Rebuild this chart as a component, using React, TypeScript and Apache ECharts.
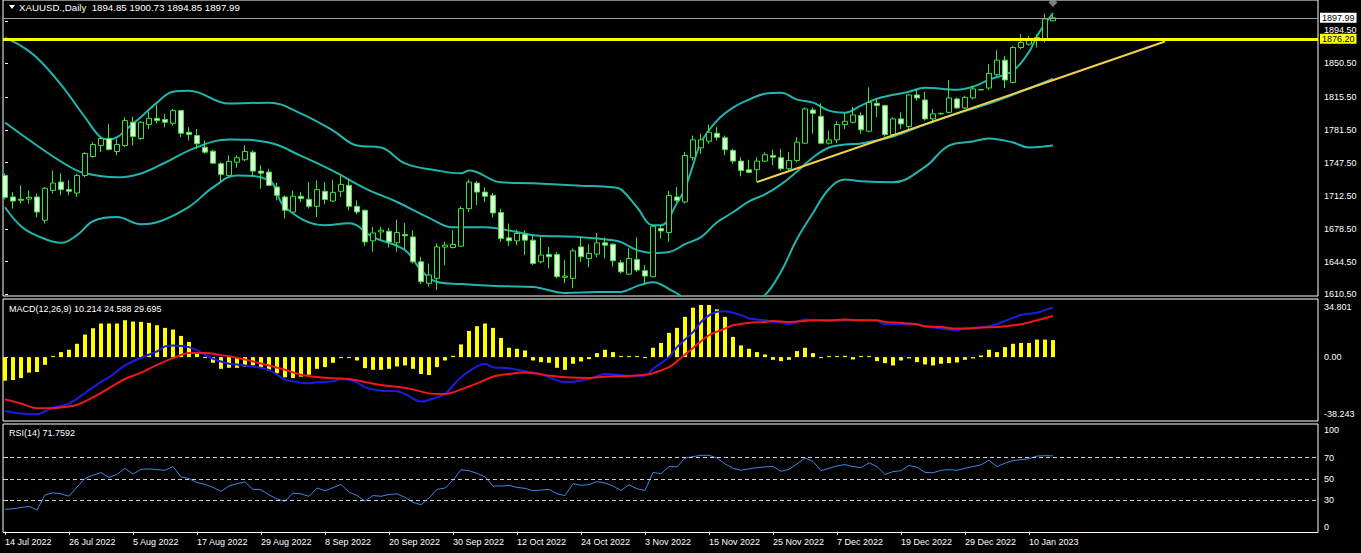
import React, { useEffect, useRef } from 'react';
import * as echarts from 'echarts';

const FONT = '"Liberation Sans", Arial, sans-serif';

const symbolName = 'XAUUSD.,Daily';
const headerOHLC = ['1894.85', '1900.73', '1894.85', '1897.99'];
const macdTitle = 'MACD(12,26,9) 10.214 24.588 29.695';
const rsiTitle = 'RSI(14) 71.7592';

const dateTicks = [
  '14 Jul 2022', '26 Jul 2022', '5 Aug 2022', '17 Aug 2022', '29 Aug 2022', '8 Sep 2022',
  '20 Sep 2022', '30 Sep 2022', '12 Oct 2022', '24 Oct 2022', '3 Nov 2022', '15 Nov 2022',
  '25 Nov 2022', '7 Dec 2022', '19 Dec 2022', '29 Dec 2022', '10 Jan 2023',
];
const barsPerTick = 8;

const openP = [
  1734.1, 1711.7, 1709.3, 1709.5, 1711.7, 1687.5, 1718.6, 1727.2, 1719.6, 1715.8,
  1734.1, 1753.8, 1765.2, 1772.5, 1759.0, 1765.2, 1789.4, 1772.5, 1787.0, 1793.5,
  1792.2, 1788.3, 1801.5, 1779.0, 1775.6, 1763.5, 1759.3, 1746.3, 1734.1, 1747.9,
  1750.4, 1758.3, 1738.6, 1737.6, 1722.0, 1711.7, 1696.1, 1712.4, 1709.3, 1702.0,
  1717.6, 1707.5, 1717.6, 1723.8, 1702.0, 1697.9, 1666.1, 1675.4, 1676.1, 1664.0,
  1672.7, 1670.2, 1644.3, 1621.9, 1627.1, 1659.6, 1659.2, 1660.6, 1699.6, 1726.2,
  1716.8, 1713.4, 1695.5, 1669.2, 1666.1, 1673.0, 1666.8, 1644.3, 1652.0, 1652.0,
  1628.1, 1627.1, 1659.8, 1647.8, 1652.3, 1664.0, 1662.6, 1643.3, 1631.5, 1646.8,
  1635.0, 1628.8, 1678.9, 1674.8, 1711.7, 1706.5, 1752.5, 1762.8, 1769.7, 1778.0,
  1773.2, 1760.1, 1749.0, 1740.0, 1740.0, 1749.0, 1754.9, 1752.5, 1741.1, 1749.7,
  1767.6, 1802.2, 1795.6, 1767.6, 1771.1, 1787.0, 1789.4, 1796.3, 1780.1, 1809.1,
  1806.7, 1776.6, 1792.9, 1784.9, 1817.8, 1812.6, 1792.9, 1798.1, 1799.7, 1813.6,
  1804.3, 1814.7, 1823.5, 1825.0, 1838.8, 1854.0, 1830.8, 1867.1, 1870.6, 1877.5,
  1875.8, 1894.85,
];
const highP = [
  1736.2, 1716.8, 1723.8, 1718.6, 1715.2, 1722.0, 1739.3, 1736.5, 1729.0, 1735.9,
  1758.3, 1768.7, 1773.8, 1787.7, 1772.2, 1794.6, 1795.3, 1790.4, 1800.5, 1807.7,
  1798.1, 1803.3, 1802.2, 1784.2, 1782.5, 1770.4, 1760.8, 1747.9, 1754.9, 1754.9,
  1765.2, 1760.1, 1744.5, 1741.1, 1726.2, 1713.4, 1718.6, 1716.8, 1727.2, 1729.0,
  1727.2, 1729.7, 1734.1, 1730.7, 1708.2, 1698.6, 1680.6, 1680.6, 1679.5, 1688.2,
  1684.7, 1677.2, 1649.5, 1642.6, 1663.4, 1665.0, 1677.2, 1702.0, 1729.7, 1728.2,
  1722.0, 1715.8, 1699.6, 1684.1, 1677.9, 1677.2, 1672.0, 1670.2, 1659.8, 1654.7,
  1646.1, 1658.2, 1670.2, 1662.6, 1674.3, 1669.6, 1663.4, 1646.1, 1658.2, 1669.6,
  1640.9, 1682.3, 1682.3, 1717.9, 1722.0, 1758.3, 1775.6, 1777.4, 1787.0, 1784.2,
  1775.6, 1761.8, 1753.1, 1750.4, 1753.1, 1758.3, 1760.8, 1761.8, 1758.3, 1773.8,
  1804.9, 1804.9, 1809.1, 1780.8, 1790.4, 1799.7, 1805.6, 1799.7, 1825.7, 1814.7,
  1807.7, 1794.6, 1799.7, 1818.8, 1824.0, 1821.2, 1803.3, 1799.5, 1833.3, 1815.3,
  1817.1, 1827.4, 1824.0, 1849.9, 1864.4, 1858.5, 1868.9, 1881.0, 1879.2, 1881.0,
  1902.3, 1900.73,
];
const lowP = [
  1709.3, 1699.6, 1705.1, 1704.8, 1690.9, 1684.1, 1715.2, 1713.4, 1713.4, 1711.7,
  1732.0, 1752.5, 1758.3, 1760.1, 1754.9, 1763.5, 1765.2, 1771.1, 1782.5, 1788.3,
  1784.2, 1786.0, 1773.8, 1770.4, 1761.8, 1756.6, 1746.3, 1727.2, 1732.4, 1742.1,
  1749.0, 1732.4, 1720.4, 1722.8, 1708.2, 1689.3, 1694.5, 1706.5, 1699.6, 1690.9,
  1704.1, 1706.5, 1711.7, 1697.9, 1693.7, 1660.6, 1654.7, 1666.8, 1659.2, 1654.7,
  1656.4, 1642.6, 1621.2, 1618.4, 1615.0, 1640.9, 1658.2, 1659.8, 1696.1, 1703.1,
  1706.5, 1690.3, 1665.0, 1660.6, 1661.6, 1651.3, 1640.9, 1642.6, 1637.4, 1627.1,
  1621.9, 1616.7, 1644.3, 1638.5, 1648.9, 1647.8, 1639.1, 1632.3, 1630.5, 1633.9,
  1620.1, 1628.1, 1668.5, 1665.0, 1706.5, 1704.8, 1749.7, 1756.6, 1767.0, 1770.4,
  1754.9, 1746.3, 1733.1, 1736.5, 1727.2, 1747.9, 1744.5, 1739.3, 1739.3, 1747.9,
  1767.0, 1777.4, 1766.3, 1766.3, 1767.6, 1782.5, 1788.3, 1777.4, 1779.0, 1794.6,
  1774.6, 1773.8, 1782.5, 1782.5, 1811.9, 1791.1, 1789.4, 1797.5, 1798.7, 1803.3,
  1803.3, 1813.2, 1822.5, 1823.0, 1836.7, 1825.0, 1829.8, 1865.4, 1868.9, 1867.1,
  1872.3, 1894.85,
];
const closeP = [
  1711.3, 1707.5, 1708.3, 1711.3, 1696.1, 1720.7, 1726.2, 1719.3, 1717.6, 1734.1,
  1756.9, 1766.3, 1772.5, 1761.1, 1766.3, 1791.1, 1774.6, 1789.4, 1793.5, 1791.1,
  1789.4, 1801.5, 1778.0, 1776.6, 1767.0, 1758.3, 1746.9, 1735.2, 1748.7, 1752.5,
  1759.0, 1738.6, 1736.5, 1723.8, 1713.4, 1697.9, 1712.4, 1710.0, 1702.0, 1719.3,
  1709.0, 1716.5, 1724.8, 1702.0, 1696.1, 1665.0, 1674.3, 1677.2, 1665.0, 1674.8,
  1671.3, 1644.3, 1623.6, 1630.5, 1659.8, 1661.6, 1662.3, 1699.6, 1727.2, 1716.8,
  1712.4, 1695.1, 1668.5, 1666.1, 1673.7, 1666.8, 1642.6, 1651.3, 1649.5, 1628.8,
  1629.5, 1655.7, 1649.5, 1653.0, 1664.0, 1661.6, 1645.3, 1633.9, 1647.8, 1635.7,
  1629.5, 1681.3, 1676.4, 1713.4, 1708.2, 1754.9, 1771.1, 1771.1, 1779.0, 1773.8,
  1760.8, 1749.0, 1739.3, 1737.3, 1749.0, 1755.6, 1753.1, 1741.1, 1749.7, 1768.7,
  1803.3, 1798.7, 1767.6, 1771.1, 1787.0, 1790.4, 1797.0, 1781.5, 1810.1, 1806.7,
  1776.6, 1792.9, 1787.7, 1817.8, 1814.7, 1792.9, 1798.1, 1798.6, 1814.7, 1804.3,
  1815.3, 1824.0, 1823.0, 1840.1, 1854.0, 1833.3, 1867.1, 1872.3, 1875.8, 1874.8,
  1896.8, 1897.99,
];

// Bollinger bands read at sampled bars: [bar, price]
const bbUpper = [
  [0, 1877.2], [2, 1868.9], [4, 1856.4], [7, 1828.5], [10, 1794.6], [12, 1773.5], [13, 1771.5],
  [16, 1788.0], [19, 1809.8], [21, 1821.2], [23, 1822.2], [28, 1808.8], [33, 1809.8],
  [37, 1798.4], [41, 1780.8], [44, 1765.2], [47, 1763.2], [50, 1746.6], [54, 1739.3],
  [57, 1736.3], [58, 1739.3], [62, 1726.9], [66, 1725.9], [72, 1723.5], [76, 1721.7],
  [77, 1719.6], [79, 1701.0], [81, 1682.3], [82, 1682.3], [84, 1705.1], [85, 1720.7],
  [86, 1744.5], [87, 1768.3], [89, 1791.1], [91, 1804.6], [93, 1812.9], [95, 1819.1],
  [97, 1820.1], [99, 1812.9], [101, 1809.8], [103, 1801.5], [105, 1799.4], [107, 1806.7],
  [109, 1813.9], [113, 1821.2], [115, 1825.3], [119, 1823.3], [121, 1826.4], [123, 1833.6],
  [126, 1843.0], [128, 1862.6], [129, 1879.2], [130, 1891.6], [131, 1903.0],
];
const bbMiddle = [
  [0, 1789.1], [4, 1765.2], [8, 1743.5], [10, 1736.3], [14, 1732.1], [17, 1736.2],
  [20, 1747.3], [24, 1763.5], [28, 1771.5], [33, 1768.3], [37, 1754.4], [41, 1738.8],
  [45, 1720.7], [49, 1706.5], [53, 1690.0], [56, 1680.3], [60, 1680.3], [64, 1675.2],
  [66, 1672.0], [72, 1669.9], [76, 1666.8], [77, 1664.7], [79, 1656.4], [81, 1653.3],
  [83, 1654.4], [85, 1662.6], [87, 1669.9], [89, 1685.4], [91, 1695.8], [93, 1707.2],
  [95, 1714.4], [97, 1724.8], [99, 1738.3], [101, 1752.8], [103, 1763.2], [105, 1766.3],
  [107, 1767.3], [111, 1774.6], [115, 1787.0], [119, 1798.4], [123, 1808.8], [127, 1821.2],
  [131, 1834.7],
];
const bbLower = [
  [0, 1701.0], [2, 1681.3], [4, 1671.5], [7, 1664.0], [9, 1672.0], [11, 1686.5], [14, 1690.9],
  [17, 1683.4], [19, 1685.4], [23, 1701.5], [26, 1721.7], [29, 1734.1], [33, 1729.0],
  [35, 1701.0], [40, 1682.3], [43, 1684.4], [46, 1670.0], [50, 1656.4], [52, 1635.7],
  [54, 1623.3], [57, 1621.2], [62, 1619.0], [66, 1618.1], [70, 1611.9], [74, 1612.9],
  [77, 1613.0], [79, 1619.0], [81, 1623.0], [83, 1616.0], [85, 1604.5], [87, 1571.5],
  [89, 1579.7], [91, 1587.0], [93, 1601.5], [95, 1609.7], [97, 1634.0], [99, 1668.0],
  [101, 1695.0], [103, 1720.0], [105, 1730.0], [107, 1728.0], [111, 1727.0], [115, 1743.0],
  [118, 1765.2], [121, 1769.4], [123, 1772.5], [126, 1768.3], [128, 1763.2], [131, 1765.2],
];

const trendLine = [[94, 1727.2], [145, 1873.3]];
const levelPrice = 1876.2;
const bidPrice = 1897.99;
const alertMark = [131, 1914.0];
const priceTicks = [1610.5, 1644.5, 1678.5, 1712.5, 1747.5, 1781.5, 1815.5, 1850.5, 1894.5];

const macdHist = [
  -14.1, -13.7, -12.5, -9.3, -8.9, -4.6, 0.4, 3.0, 4.4, 8.0,
  13.5, 17.3, 20.1, 20.1, 20.1, 22.1, 21.3, 21.1, 20.5, 19.1,
  17.5, 16.5, 12.7, 9.1, 3.0, -0.5, -3.4, -7.0, -6.4, -6.4,
  -5.6, -5.0, -6.4, -8.0, -9.7, -12.1, -12.5, -11.7, -10.5, -7.0,
  -6.0, -3.4, -0.6, -0.6, -2.0, -6.6, -7.6, -7.6, -7.0, -5.6,
  -5.0, -7.0, -10.1, -10.7, -6.0, -2.0, 0.8, 7.6, 15.7, 18.5,
  20.1, 17.5, 11.5, 5.6, 5.0, 4.0,
  -2.0, -3.0, -3.4, -6.4, -7.6, -4.0, -2.6, -1.2, 2.4, 4.4,
  3.0, 0.4, 0.4, 0.2, -0.4, 5.6, 8.5, 14.5, 17.5, 24.1,
  29.6, 31.2, 31.2, 28.6, 24.1, 12.1, 7.0, 5.0, 3.0, 1.6,
  -1.6, -2.4, -1.6, 3.6, 5.6, 2.4, -0.2, 0.4, 0.4, 0.8,
  -1.4, 0.6, 0.6, -2.4, -3.6, -5.0, -2.0, -0.8, -3.0, -4.4,
  -5.0, -4.0, -3.6, -3.2, -1.6, -0.8, 1.0, 4.4, 3.0, 6.0,
  8.0, 8.5, 8.5, 10.5, 10.5, 10.214,
];
const macdBlue = [
  [0, -32.2], [2, -33.8], [4, -34.2], [6, -30.2], [8, -27.8], [10, -21.5], [12, -14.8],
  [13, -12.1], [15, -5.0], [17, -0.4], [19, 3.4], [20, 6.4], [21, 7.0], [23, 6.0], [24, 4.0],
  [26, -1.0], [28, -4.0], [29, -4.4], [31, -5.6], [33, -7.6], [35, -13.5], [36, -14.5],
  [38, -15.7], [39, -15.1], [41, -14.5], [42, -13.1], [44, -15.1], [45, -18.1], [47, -20.1],
  [49, -20.5], [50, -22.1], [52, -26.6], [54, -24.1], [55, -22.1], [57, -12.1], [59, -5.6],
  [60, -4.0], [61, -6.0], [63, -6.6], [65, -8.5], [67, -10.1], [70, -15.1], [73, -13.1],
  [75, -10.1], [78, -11.1], [80, -11.1], [81, -7.0], [83, 0.0], [84, 6.0], [86, 15.0],
  [87, 21.0], [88, 25.0], [89, 27.2], [90, 27.4], [92, 25.2], [93, 23.1], [95, 22.1],
  [97, 20.5], [98, 19.7], [100, 22.5], [101, 22.1], [103, 21.7], [105, 22.1], [107, 22.1],
  [109, 21.7], [110, 19.7], [112, 19.7], [114, 19.5], [115, 18.5], [117, 17.1], [119, 16.1],
  [120, 17.1], [122, 17.7], [124, 19.7], [125, 21.7], [127, 25.2], [129, 26.6], [131, 29.695],
];
const macdRed = [
  [0, -25.2], [2, -27.8], [4, -30.6], [6, -30.6], [8, -29.6], [9, -28.6], [11, -24.1],
  [13, -18.5], [15, -13.1], [17, -9.3], [19, -4.6], [21, -0.6], [23, 2.4], [25, 2.4],
  [27, 1.2], [29, -0.4], [31, -2.6], [33, -5.0], [35, -7.6], [37, -10.5], [39, -11.9],
  [41, -12.7], [43, -13.1], [45, -14.9], [47, -16.7], [49, -17.7], [51, -19.3], [53, -21.7],
  [55, -22.1], [57, -19.3], [59, -15.7], [61, -11.7], [63, -10.1], [65, -9.2], [68, -11.1],
  [70, -12.1], [73, -12.5], [75, -11.7], [78, -11.3], [80, -10.5], [81, -9.7], [83, -6.0],
  [84, -2.5], [86, 5.5], [88, 13.1], [90, 17.1], [91, 19.1], [93, 20.5], [95, 21.1],
  [96, 21.7], [98, 21.1], [100, 21.7], [101, 22.1], [103, 22.1], [105, 22.5], [107, 22.1],
  [109, 22.1], [110, 21.1], [112, 20.5], [114, 19.7], [115, 18.5], [117, 18.1], [119, 17.1],
  [120, 17.1], [122, 17.7], [124, 18.1], [125, 18.5], [127, 19.7], [129, 22.1], [131, 24.588],
];
const macdTicks = [-38.243, 0, 34.801];

const rsi = [
  21.3, 21.6, 22.9, 23.9, 20.6, 34.8, 36.8, 35.8, 33.5, 42.3,
  50.3, 53.5, 55.8, 51.3, 54.2, 60.0, 54.5, 59.0, 59.4, 58.7,
  58.1, 61.6, 51.9, 50.3, 46.5, 44.8, 41.9, 38.1, 43.2, 45.5,
  47.1, 40.0, 39.7, 34.8, 31.0, 28.7, 36.5, 35.8, 33.5, 41.3,
  38.7, 41.6, 44.8, 37.4, 34.2, 29.0, 34.2, 33.5, 35.2, 35.8,
  32.6, 27.7, 25.5, 31.9, 40.0, 41.3, 48.7, 58.7, 57.7, 55.2,
  51.9, 43.2, 43.2, 43.9, 41.9, 41.0, 38.7, 39.4, 40.0, 35.8,
  34.2, 45.5, 43.9, 44.5, 47.4, 46.1, 43.2, 39.0, 44.5, 40.6,
  39.0, 56.1, 54.8, 61.6, 61.3, 69.7, 71.0, 72.3, 72.3, 69.7,
  64.2, 60.0, 58.1, 59.4, 60.6, 61.3, 61.6, 57.1, 59.0, 64.2,
  69.7, 66.5, 57.7, 60.0, 62.3, 63.5, 61.6, 60.6, 65.2, 61.6,
  54.2, 56.8, 57.7, 62.6, 61.0, 56.1, 55.8, 58.1, 58.7, 58.1,
  60.0, 61.6, 63.2, 67.7, 61.6, 64.8, 67.4, 68.1, 69.0, 71.6,
  71.9, 71.7592,
];
const rsiLevels = [70, 50, 30];
const rsiTicks = [0, 30, 50, 70, 100];

export default function App() {
  const ref = useRef<HTMLDivElement>(null);

  useEffect(() => {
    document.body.style.margin = '0';
    document.body.style.background = '#000';
    const chart = echarts.init(ref.current!, null, { renderer: 'svg' });

    const WHITE = '#ffffff';
    const labelBase = { color: WHITE, fontSize: 9, fontFamily: FONT };
    const xMin = -0.25;
    const xMax = 164.125;
    const tickBars = dateTicks.map((_, k) => k * barsPerTick);

    const hiddenX = (gridIndex: number) => ({
      type: 'value', gridIndex, min: xMin, max: xMax, show: false,
    });

    const candles = openP.map((o, i) => [i, o, closeP[i], lowP[i], highP[i]]);

    const option: any = {
      animation: false,
      backgroundColor: '#000000',
      grid: [
        { left: 3, right: 43, top: -1, height: 297, show: true, borderColor: WHITE, borderWidth: 1 },
        { left: 3, right: 43, top: 299, height: 122, show: true, borderColor: WHITE, borderWidth: 1 },
        { left: 3, right: 43, top: 424, height: 108.5, show: true, borderColor: WHITE, borderWidth: 1 },
      ],
      xAxis: [
        hiddenX(0),
        hiddenX(1),
        {
          type: 'value', gridIndex: 2, min: xMin, max: xMax,
          axisLine: { show: false },
          splitLine: { show: false },
          axisTick: { show: true, customValues: tickBars, length: 3, lineStyle: { color: WHITE } },
          axisLabel: {
            ...labelBase,
            customValues: tickBars,
            align: 'left',
            margin: 5,
            formatter: (v: number) => dateTicks[Math.round(v / barsPerTick)] ?? '',
          },
        },
      ],
      yAxis: [
        {
          type: 'value', gridIndex: 0, position: 'right',
          min: 1608.74, max: 1916.52,
          splitLine: { show: false }, axisLine: { show: false },
          axisTick: { show: true, customValues: priceTicks, length: 3, lineStyle: { color: WHITE } },
          axisLabel: {
            ...labelBase, margin: 6, customValues: priceTicks,
            formatter: (v: number) => (v === 1894.5 ? `{s|${v.toFixed(2)}}` : v.toFixed(2)),
            rich: { s: { ...labelBase, padding: [18, 0, 0, 0] } },
          },
        },
        {
          type: 'value', gridIndex: 1, position: 'right',
          min: -38.243, max: 34.801,
          splitLine: { show: false }, axisLine: { show: false },
          axisTick: { show: true, customValues: [0], length: 3, lineStyle: { color: WHITE } },
          axisLabel: {
            ...labelBase, margin: 6, customValues: macdTicks,
            formatter: (v: number) =>
              v === 0 ? '0.00' : v > 0 ? `{t|${v}}` : `{b|${v}}`,
            rich: {
              t: { ...labelBase, padding: [16, 0, 0, 0] },
              b: { ...labelBase, padding: [0, 0, 14, 0] },
            },
          },
        },
        {
          type: 'value', gridIndex: 2, position: 'right',
          min: -0.76, max: 101.9,
          splitLine: { show: false }, axisLine: { show: false },
          axisTick: { show: true, customValues: [30, 50, 70], length: 3, lineStyle: { color: WHITE } },
          axisLabel: {
            ...labelBase, margin: 6, customValues: rsiTicks,
            formatter: (v: number) =>
              v === 100 ? `{t|${v}}` : v === 0 ? `{b|${v}}` : String(v),
            rich: {
              t: { ...labelBase, padding: [8, 0, 0, 0] },
              b: { ...labelBase, padding: [0, 0, 10, 0] },
            },
          },
        },
      ],
      series: [
        {
          name: 'BB upper', type: 'line', xAxisIndex: 0, yAxisIndex: 0,
          data: bbUpper, smooth: 0.4, symbol: 'none',
          lineStyle: { color: '#22b5ae', width: 2 }, z: 2,
        },
        {
          name: 'BB middle', type: 'line', xAxisIndex: 0, yAxisIndex: 0,
          data: bbMiddle, smooth: 0.4, symbol: 'none',
          lineStyle: { color: '#22b5ae', width: 2 }, z: 2,
        },
        {
          name: 'BB lower', type: 'line', xAxisIndex: 0, yAxisIndex: 0,
          data: bbLower, smooth: 0.4, symbol: 'none',
          lineStyle: { color: '#22b5ae', width: 2 }, z: 2,
        },
        {
          name: 'XAUUSD', type: 'candlestick', xAxisIndex: 0, yAxisIndex: 0,
          data: candles,
          encode: { x: 0, y: [1, 2, 3, 4] },
          barWidth: 5,
          z: 3,
          itemStyle: {
            color: '#000000',
            color0: '#e2fbdc',
            borderColor: '#3fe03f',
            borderColor0: '#3fe03f',
            borderWidth: 1,
          },
          markLine: {
            silent: true,
            symbol: ['none', 'none'],
            animation: false,
            data: [
              {
                yAxis: bidPrice,
                lineStyle: { color: '#9c9c9c', width: 1, type: 'solid' },
                label: {
                  show: true, position: 'end', distance: 2, formatter: bidPrice.toFixed(2),
                  color: '#000', backgroundColor: '#ffffff', padding: [1, 2, 0, 2],
                  fontSize: 9, fontFamily: FONT,
                },
              },
              {
                yAxis: levelPrice,
                lineStyle: { color: '#ffff00', width: 3, type: 'solid' },
                label: {
                  show: true, position: 'end', distance: 2, formatter: levelPrice.toFixed(2),
                  color: '#000', backgroundColor: '#ffff00', padding: [1, 2, 0, 2],
                  fontSize: 9, fontFamily: FONT,
                },
              },
            ],
          },
        },
        {
          name: 'Trend', type: 'line', xAxisIndex: 0, yAxisIndex: 0,
          data: trendLine, symbol: 'none',
          lineStyle: { color: '#f2cf4c', width: 2 }, z: 4,
        },
        {
          name: 'Alert', type: 'scatter', xAxisIndex: 0, yAxisIndex: 0,
          data: [alertMark], symbol: 'diamond', symbolSize: [9, 9],
          itemStyle: { color: '#9a9a9a' }, z: 5,
        },
        {
          name: 'MACD hist', type: 'bar', xAxisIndex: 1, yAxisIndex: 1,
          data: macdHist.map((v, i) => [i, v]),
          barWidth: 4, barMinHeight: 1,
          itemStyle: { color: '#ffff00' },
        },
        {
          name: 'MACD', type: 'line', xAxisIndex: 1, yAxisIndex: 1,
          data: macdBlue, smooth: 0.3, symbol: 'none',
          lineStyle: { color: '#1c1ce0', width: 2 }, z: 3,
        },
        {
          name: 'Signal', type: 'line', xAxisIndex: 1, yAxisIndex: 1,
          data: macdRed, smooth: 0.3, symbol: 'none',
          lineStyle: { color: '#f01818', width: 2 }, z: 4,
        },
        {
          name: 'RSI', type: 'line', xAxisIndex: 2, yAxisIndex: 2,
          data: rsi.map((v, i) => [i, v]), symbol: 'none',
          lineStyle: { color: '#3f86e0', width: 1 },
          markLine: {
            silent: true,
            symbol: ['none', 'none'],
            label: { show: false },
            lineStyle: { color: '#d0d0d0', width: 1, type: [4, 3] },
            data: rsiLevels.map((v) => ({ yAxis: v })),
          },
        },
      ],
      graphic: [
        {
          type: 'polygon',
          shape: { points: [[9, 5], [15, 5], [12, 9]] },
          style: { fill: WHITE },
        },
        {
          type: 'text', x: 19, y: 7,
          style: {
            text: `${symbolName}  ${headerOHLC.join(' ')}`,
            fill: WHITE, fontSize: 9.7, fontFamily: FONT, verticalAlign: 'middle', align: 'left',
          },
        },
        {
          type: 'text', x: 9, y: 309,
          style: {
            text: macdTitle, fill: WHITE, fontSize: 9, fontFamily: FONT,
            verticalAlign: 'middle', align: 'left',
          },
        },
        {
          type: 'text', x: 9, y: 433,
          style: {
            text: rsiTitle, fill: WHITE, fontSize: 9, fontFamily: FONT,
            verticalAlign: 'middle', align: 'left',
          },
        },
      ],
    };

    chart.setOption(option);
    return () => chart.dispose();
  }, []);

  return (
    <div
      ref={ref}
      style={{ position: 'fixed', left: 0, top: 0, width: 1361, height: 553, background: '#000' }}
    />
  );
}
